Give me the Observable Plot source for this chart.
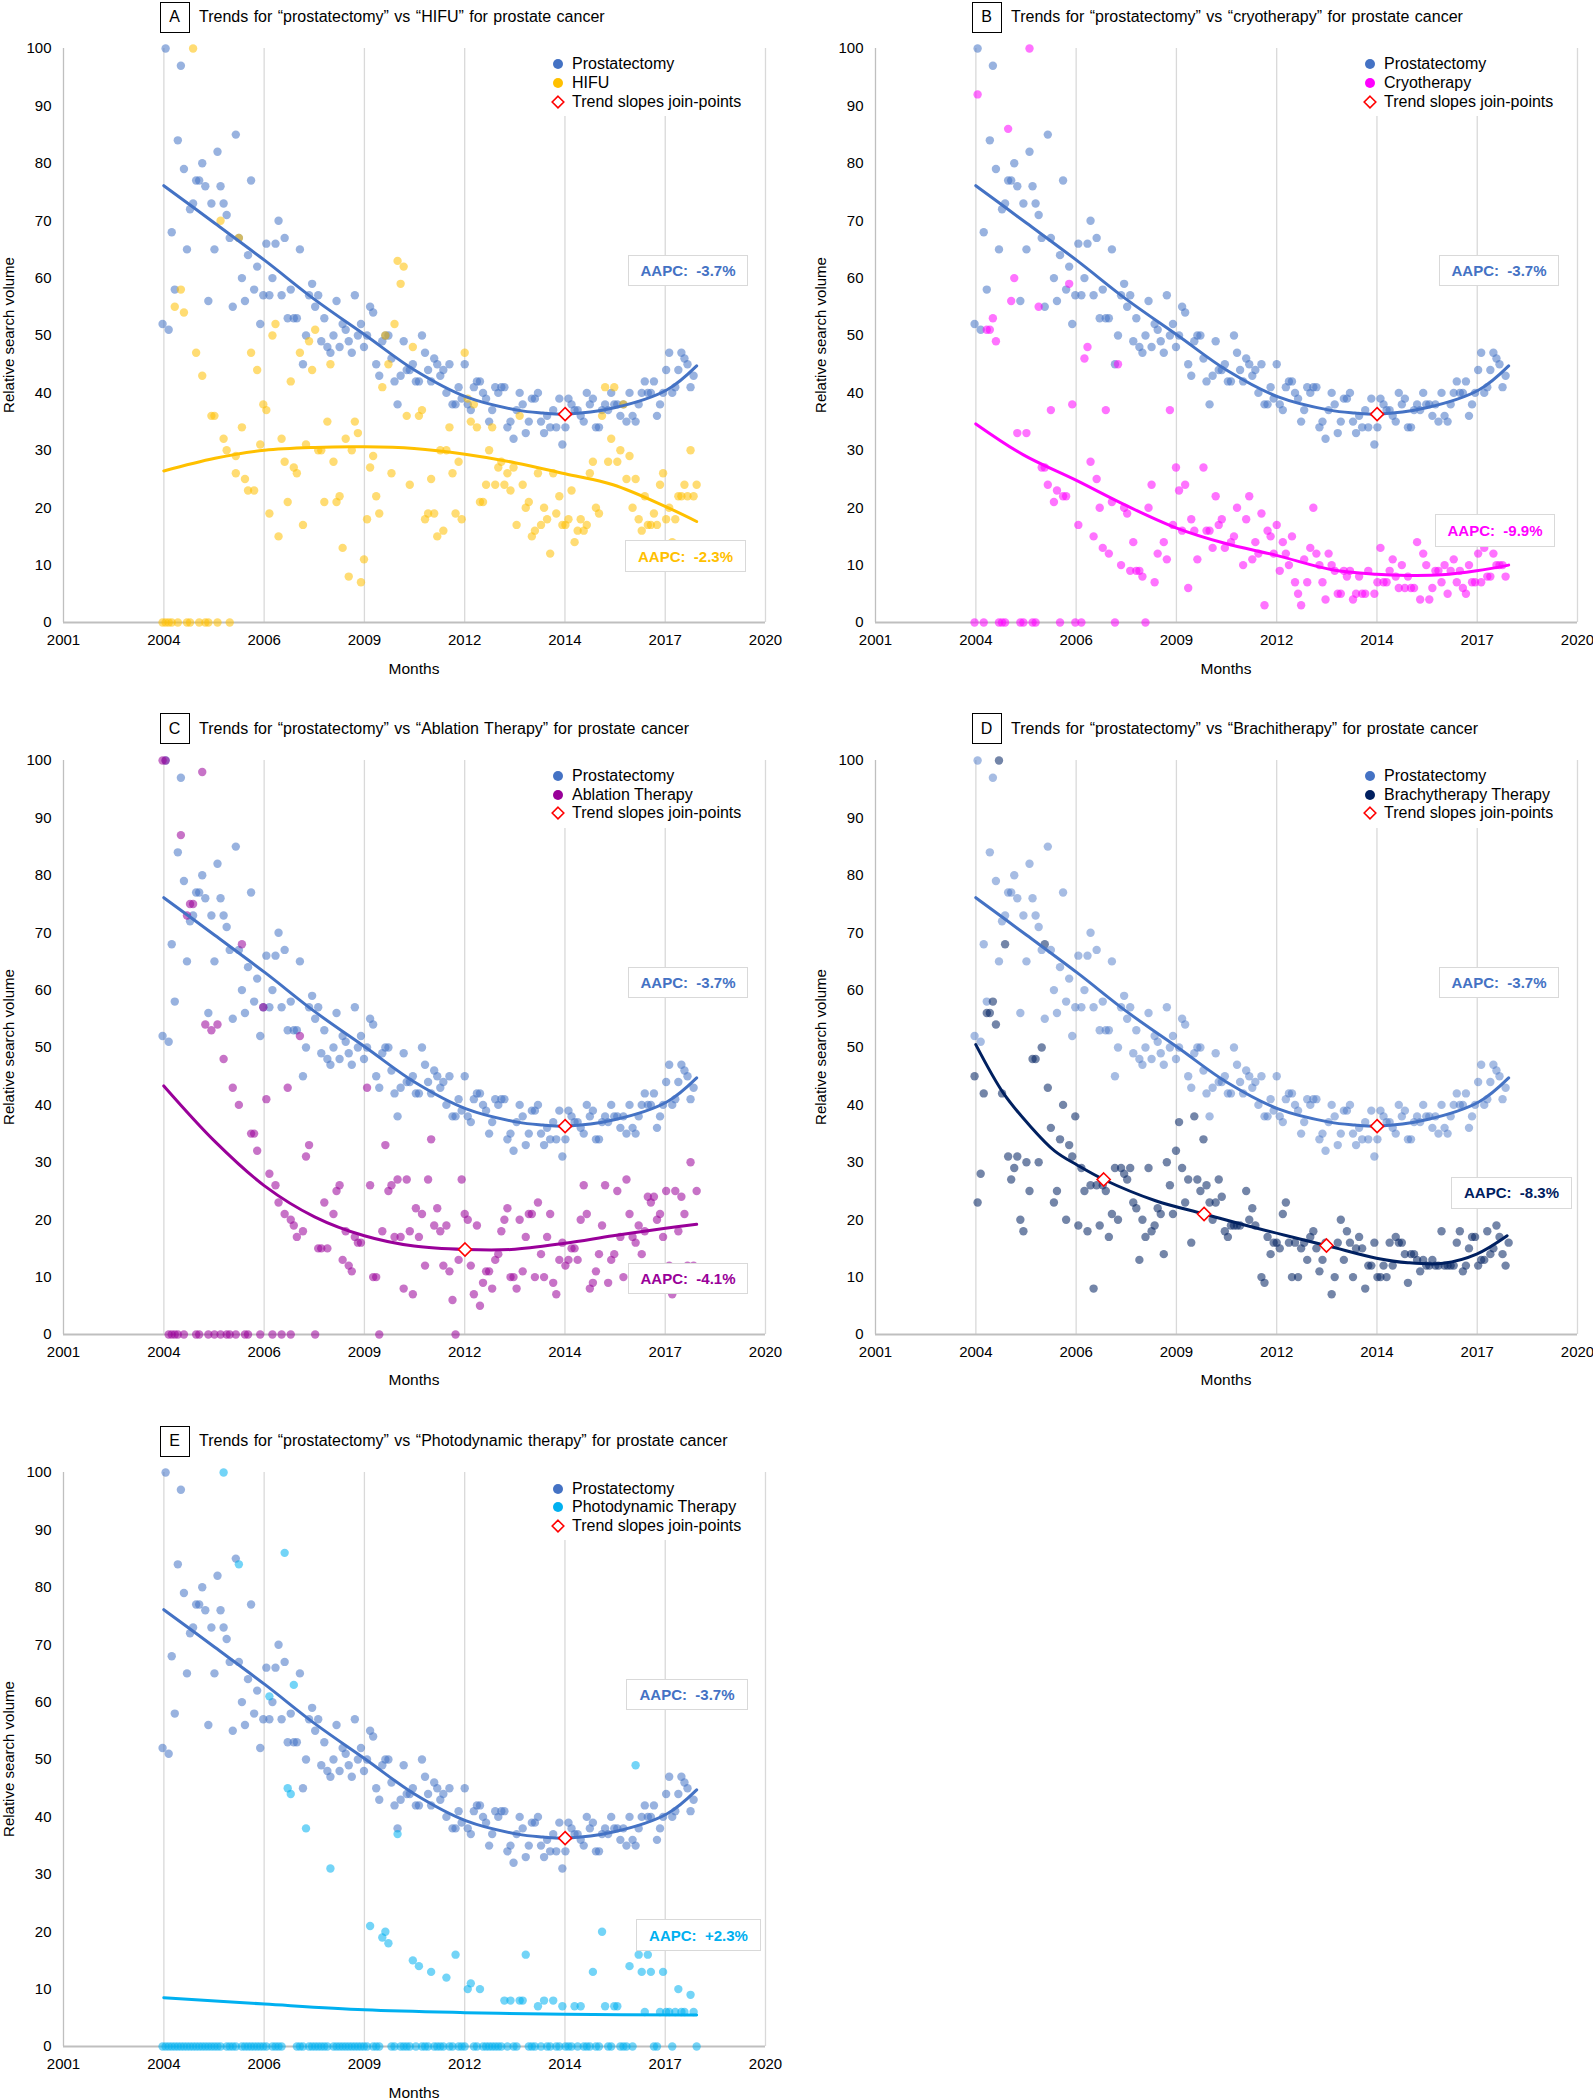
<!DOCTYPE html>
<html><head><meta charset="utf-8">
<script src="https://cdn.jsdelivr.net/npm/d3@7"></script>
<script src="https://cdn.jsdelivr.net/npm/@observablehq/plot@0.6"></script>
<style>
body{margin:0;background:#fff;font-family:Arial,"Liberation Sans",sans-serif;color:#000;}
#page{position:relative;width:1593px;height:2100px;overflow:hidden;}
.panel{position:absolute;width:800px;height:712px;}
.title{position:absolute;left:159.5px;top:1.5px;height:31px;display:flex;align-items:center;font-size:16px;word-spacing:1px;white-space:nowrap;}
.letter{box-sizing:border-box;width:30px;height:31px;border:1.5px solid #000;display:flex;align-items:center;justify-content:center;font-size:16px;margin-right:9.5px;}
.legend{position:absolute;width:210px;height:68px;background:#fff;padding-top:7px;box-sizing:border-box;font-size:16px;}
.row{height:18.7px;display:flex;align-items:center;white-space:nowrap;}
.sym{width:20px;display:flex;justify-content:center;align-items:center;margin-right:4px;}
.circ{width:10px;height:10px;border-radius:50%;}
.aapc{position:absolute;box-sizing:border-box;background:#fff;border:1.5px solid #d9d9d9;font-weight:bold;font-size:15px;display:flex;align-items:center;justify-content:center;white-space:pre;}
.xlab{position:absolute;font-size:15.5px;transform:translate(-50%,-50%);white-space:nowrap;}
.ylab{position:absolute;font-size:15px;transform:translate(-50%,-50%) rotate(-90deg);white-space:nowrap;}
</style></head>
<body><div id="page"></div>
<script>
// ---------- DATA ----------
// tick positions of the original (Excel serial 37000..44000, every 1000 days)
const tickDates = ["2001-04-18","2004-01-14","2006-10-10","2009-07-06","2012-04-01","2014-12-27","2017-09-22","2020-06-18"];
const yTicks = [0,10,20,30,40,50,60,70,80,90,100];

// Prostatectomy, monthly from Jan 2004 (month index 0)
const prostatectomy = [52,100,51,68,58,84,97,79,65,72, 73,77,77,80,76,56,73,65,82,76,
 73,71,67,55,85,67,60,56,64,77, 58,62,52,57,66,57,60,66,70,57, 67,53,58,53,53,65,45,50,57,59,
 55,57,49,53,48,47,50,56,48,52, 51,49,47,57,50,52,48,50,55,54, 45,43,49,50,50,46,42,38,43,49,
 44,44,45,42,42,50,47,44,42,46, 45,43,44,40,45,38,38,41,39,45, 38,37,41,42,42,40,39,35,37,41,
 40,41,41,34,35,32,37,40,38,33, 35,39,39,40,35,33,36,34,37,34, 39,31,34,39,38,37,37,36,35,40,
 38,39,34,34,37,38,37,40,38,38, 36,38,35,40,36,35,38,40,42,40, 40,42,36,38,40,44,47,40,41,44,
 47,46,45,41,43];
const prostatectomyTrend = [[0.4,76.1],[17,69.6],[33.7,63],[50,56.2],[66.6,50],[82.8,43.9],[99.5,39.3],[116.3,37],[124.6,36.5],[131.9,36.3],[148,37.4],[165.2,40.5],[175,44.7]];
const prostatectomyJoins = [[131.9,36.3]];

// HIFU  [month index, value]
const hifuZeroMonths = [0,1,2,3,5,8,9,12,14,15,18,22];
const hifu = [[4,55],[6,58],[7,54],[10,100],[11,47],[13,43],[16,36],[17,36],[19,70],[20,32],[21,30],[24,29],[24,26],[25,67],[26,34],[27,25],[28,23],[29,47],[30,23],[31,44],[32,31],[33,38],[34,37],[35,19],[36,50],[37,52],[38,15],[39,32],[40,28],[41,21],[42,42],[43,27],[44,26],[45,47],[46,17],[47,31],[48,49],[49,44],[50,51],[51,30],[52,30],[53,21],[54,35],[55,45],[56,28],[57,21],[58,22],[59,13],[60,32],[61,8],[62,30],[63,35],[64,33],[65,7],[66,11],[67,18],[68,27],[69,29],[70,22],[71,19],[72,41],[73,50],[74,45],[75,26],[76,52],[77,63],[78,59],[79,62],[80,36],[81,24],[82,48],[84,36],[85,37],[86,18],[87,19],[88,25],[89,19],[90,15],[91,30],[92,16],[93,30],[94,34],[95,26],[96,19],[97,28],[98,18],[99,47],[100,39],[101,35],[102,38],[103,34],[104,21],[105,21],[106,24],[107,30],[108,34],[109,24],[110,27],[111,28],[112,24],[113,26],[114,23],[115,27],[116,17],[117,36],[118,24],[119,20],[120,21],[121,15],[122,16],[123,26],[124,17],[125,20],[126,18],[127,12],[128,26],[129,19],[130,22],[131,17],[132,17],[133,18],[134,23],[135,14],[136,16],[137,18],[138,16],[139,17],[140,26],[141,28],[142,20],[143,19],[144,36],[145,41],[146,28],[147,32],[148,41],[149,28],[150,30],[151,38],[152,25],[153,29],[154,20],[155,25],[156,18],[157,16],[158,22],[159,17],[160,17],[161,19],[162,17],[163,24],[164,26],[165,18],[166,20],[167,14],[168,18],[169,22],[170,22],[171,24],[172,22],[173,30],[174,22],[175,24]];
const hifuTrend = [[0.4,26.4],[17.2,28.6],[33.4,30],[49.8,30.5],[66.1,30.6],[82.4,30.3],[99.1,29.3],[115.8,27.8],[131.9,25.9],[147.6,24],[164.8,20.2],[175,17.6]];

// Cryotherapy
const cryoZeroMonths = [0,3,8,9,10,15,16,19,20,28,33,35,46,56];
const cryo = [[1,92],[4,51],[5,51],[6,53],[7,49],[11,86],[12,56],[13,60],[14,33],[17,33],[18,100],[21,55],[22,27],[23,27],[24,24],[25,37],[26,21],[27,23],[29,22],[30,22],[31,59],[32,38],[34,17],[36,46],[37,48],[38,28],[39,15],[40,25],[41,20],[42,13],[43,37],[44,12],[45,21],[47,45],[48,10],[49,20],[50,19],[51,9],[52,14],[53,9],[54,9],[55,8],[57,20],[58,24],[59,7],[60,12],[62,14],[63,11],[64,37],[65,17],[66,27],[67,23],[68,16],[69,24],[70,6],[71,18],[72,16],[73,11],[75,27],[76,16],[77,16],[78,13],[79,22],[80,17],[81,18],[82,13],[84,14],[85,15],[86,20],[88,10],[89,18],[90,22],[91,11],[92,14],[93,12],[94,19],[95,3],[96,16],[97,15],[98,12],[99,17],[100,9],[101,14],[102,12],[103,10],[104,15],[105,7],[106,5],[107,3],[108,11],[109,7],[110,13],[111,20],[112,12],[113,10],[114,7],[115,4],[116,12],[117,10],[118,9],[119,5],[120,5],[121,9],[122,8],[123,9],[124,4],[125,5],[126,8],[127,5],[128,5],[129,9],[131,5],[132,7],[133,13],[134,7],[135,7],[136,9],[137,11],[138,8],[139,6],[140,10],[141,6],[142,8],[143,6],[144,6],[145,14],[146,4],[147,12],[148,10],[149,4],[150,6],[151,9],[152,9],[153,7],[154,10],[155,5],[156,9],[157,11],[158,7],[159,9],[160,6],[161,5],[162,10],[163,7],[164,7],[165,12],[166,7],[167,13],[168,8],[169,8],[170,12],[171,10],[172,10],[173,10],[174,8]];
const cryoTrend = [[0.4,34.6],[16,29.2],[33.2,24.8],[50,20.3],[66,16.5],[82,13.8],[98.9,11.7],[117.1,9.2],[131.7,8.4],[141.9,8.2],[153,8.3],[164.5,9],[175,10]];

// Ablation therapy
const ablationZeroMonths = [2,3,4,5,7,11,12,15,17,19,21,22,24,27,28,32,36,39,42,50,71,96];
const ablation = [[0,100],[1,100],[6,87],[13,98],[9,75],[10,75],[8,73],[14,54],[16,53],[18,54],[20,48],[23,43],[25,40],[26,68],[29,35],[30,35],[31,32],[33,57],[34,41],[35,28],[37,26],[38,23],[40,21],[41,43],[42,20],[43,19],[44,17],[45,52],[46,18],[47,31],[48,33],[51,15],[52,15],[54,15],[53,23],[56,21],[57,25],[58,26],[59,13],[60,18],[61,12],[62,11],[63,17],[64,16],[65,16],[67,43],[68,26],[69,10],[70,10],[72,18],[73,33],[74,25],[75,26],[76,17],[77,27],[78,17],[79,8],[80,27],[81,18],[82,7],[83,22],[84,17],[85,21],[86,12],[87,27],[88,34],[89,19],[90,22],[91,18],[92,12],[93,19],[94,11],[95,6],[97,13],[98,27],[99,21],[100,20],[101,12],[102,7],[103,19],[104,5],[105,9],[106,11],[107,11],[108,8],[109,13],[110,14],[111,18],[112,20],[113,22],[114,10],[115,10],[116,8],[117,20],[118,11],[119,17],[120,21],[121,21],[122,10],[123,23],[124,14],[125,10],[126,17],[127,21],[128,9],[129,7],[130,13],[131,16],[132,12],[133,13],[134,15],[135,15],[136,13],[137,20],[138,26],[139,21],[140,8],[141,9],[142,11],[143,14],[144,19],[145,26],[146,9],[147,13],[148,14],[149,25],[150,17],[151,10],[152,27],[153,21],[154,17],[155,16],[156,19],[157,14],[158,18],[159,24],[160,23],[161,24],[162,20],[163,21],[164,17],[165,25],[166,12],[167,7],[168,25],[169,18],[170,24],[171,21],[172,12],[173,30],[174,12],[175,25]];
const ablationTrend = [[0.4,43.3],[17.2,33.6],[33.4,25.9],[49.8,20.5],[66.1,17.2],[82.4,15.4],[99.1,14.8],[114.2,14.8],[131.9,15.9],[147.6,17.2],[164.8,18.5],[175,19.2]];
const ablationJoins = [[99.1,14.8]];

// Brachytherapy
const brachy = [[0,45],[1,23],[2,28],[3,42],[4,56],[5,56],[6,58],[7,54],[8,100],[9,42],[10,68],[11,31],[12,27],[13,29],[14,31],[15,20],[16,18],[17,30],[18,25],[19,48],[20,48],[21,30],[22,50],[23,68],[24,43],[25,36],[26,23],[27,25],[28,34],[29,40],[30,20],[31,33],[32,31],[33,38],[34,19],[35,29],[36,25],[37,18],[38,26],[39,8],[40,26],[41,19],[42,26],[43,25],[44,17],[45,21],[46,29],[47,20],[48,29],[49,28],[50,27],[51,29],[52,23],[53,22],[54,13],[55,20],[56,17],[57,29],[58,18],[59,19],[60,22],[61,21],[62,14],[63,30],[64,26],[65,21],[66,32],[67,37],[68,29],[69,23],[70,27],[71,16],[72,38],[73,27],[74,25],[75,34],[76,26],[77,23],[78,20],[79,23],[80,27],[81,24],[82,18],[83,17],[84,19],[85,19],[86,19],[87,19],[89,25],[90,20],[91,22],[92,19],[94,10],[95,9],[96,17],[97,14],[98,16],[99,16],[100,15],[101,21],[102,23],[103,16],[104,10],[105,16],[106,10],[107,15],[108,16],[109,13],[110,17],[111,18],[112,15],[113,11],[114,13],[115,16],[117,7],[118,10],[119,16],[120,20],[121,13],[122,18],[123,16],[124,10],[125,15],[126,17],[127,15],[128,8],[129,12],[130,12],[131,16],[132,10],[133,10],[134,12],[135,10],[136,16],[137,12],[138,17],[139,16],[140,16],[141,14],[142,9],[143,14],[144,14],[145,13],[146,11],[147,13],[148,12],[149,12],[150,13],[151,12],[152,12],[153,18],[154,12],[155,12],[156,12],[157,12],[158,16],[159,18],[160,11],[161,12],[162,15],[163,17],[164,17],[165,12],[166,13],[167,13],[168,18],[169,14],[170,15],[171,19],[172,17],[173,14],[174,12],[175,16]];
const brachyTrend = [[0.4,50.5],[9.5,42],[17.9,36.5],[26.2,32],[33.7,29.5],[42.3,27],[59.3,23.3],[75.2,21],[92.6,18.5],[115.3,15.5],[131.7,13.3],[142,12.5],[153.6,12.4],[164.5,14],[174.5,17.2]];
const brachyJoins = [[42.3,27],[75.2,21],[115.3,15.5]];

// Photodynamic therapy
const pdtZeroRanges = [[0,19],[21,24],[26,34],[36,39],[44,46],[48,54],[56,67],[69,71],[75,76],[78,81],[83,83],[85,87],[89,92],[94,95],[97,99],[102,103],[105,111],[113,113],[115,116],[120,122],[124,124],[126,127],[129,130],[132,134],[136,136],[138,140],[142,143],[146,147],[150,152],[154,154],[161,162],[167,167],[175,175]];
const pdt = [[20,100],[25,84],[35,61],[40,86],[41,45],[42,44],[43,63],[47,38],[55,31],[68,21],[72,19],[73,20],[74,18],[77,37],[82,15],[84,14],[88,13],[93,12],[96,16],[100,10],[101,11],[104,10],[112,8],[114,8],[117,8],[118,8],[119,16],[123,7],[125,8],[128,8],[131,7],[135,7],[137,7],[141,13],[144,20],[145,7],[148,7],[149,7],[153,14],[155,49],[156,16],[157,13],[158,6],[159,16],[160,13],[163,6],[164,13],[165,6],[166,6],[168,6],[169,10],[170,6],[171,6],[173,9],[174,6]];
const pdtTrend = [[0.4,8.5],[33.4,7.4],[66.1,6.4],[99.1,5.9],[131.9,5.6],[175,5.5]];

// ---------- PANEL DEFINITIONS ----------
const panels = [
 {letter:"A", title:"Trends for “prostatectomy” vs “HIFU” for prostate cancer", name:"HIFU", color:"#FFC000",
  points: hifu.concat(hifuZeroMonths.map(m=>[m,0])), trend:hifuTrend, joins:prostatectomyJoins, aapc:"-2.3%"},
 {letter:"B", title:"Trends for “prostatectomy” vs “cryotherapy” for prostate cancer", name:"Cryotherapy", color:"#FF00FF",
  points: cryo.concat(cryoZeroMonths.map(m=>[m,0])), trend:cryoTrend, joins:prostatectomyJoins, aapc:"-9.9%"},
 {letter:"C", title:"Trends for “prostatectomy” vs “Ablation Therapy” for prostate cancer", name:"Ablation Therapy", color:"#990099",
  points: ablation.concat(ablationZeroMonths.map(m=>[m,0])), trend:ablationTrend, joins:prostatectomyJoins.concat(ablationJoins), aapc:"-4.1%"},
 {letter:"D", title:"Trends for “prostatectomy” vs “Brachitherapy” for prostate cancer", name:"Brachytherapy Therapy", color:"#002060",
  points: brachy, trend:brachyTrend, joins:prostatectomyJoins.concat(brachyJoins), aapc:"-8.3%"},
 {letter:"E", title:"Trends for “prostatectomy” vs “Photodynamic therapy” for prostate cancer", name:"Photodynamic Therapy", color:"#00B0F0",
  points: pdt.concat(pdtZeroRanges.flatMap(([a,b])=>d3.range(a,b+1).map(m=>[m,0]))), trend:pdtTrend, joins:prostatectomyJoins, aapc:"+2.3%"}
];
const prostAapc = "-3.7%";

// ---------- LAYOUT (pixels) ----------
const layout = {
 A:{left:0,   top:0,      box1:[565,207,120,31], box2:[562,492,121,32]},
 B:{left:812, top:0,      box1:[564,207,120,31], box2:[560,466,120,33]},
 C:{left:0,   top:711.5,  box1:[565,207,120,31], box2:[565,503,120,31]},
 D:{left:812, top:711.5,  box1:[564,207,120,31], box2:[576,417,121,32]},
 E:{left:0,   top:1424.3, box1:[563,207,122,31], box2:[573,447,125,32]}
};
const W = 790, H = 662, ML = 63, MR = 25, MT = 18, MB = 70, SVG_TOP = 30;
const BLUE = "#4472C4";

const t0 = Date.UTC(2004,0,1);
const toDate = m => new Date(t0 + m * 30.436875 * 86400000);
const ticks = tickDates.map(s => new Date(s + "T00:00:00Z"));

const page = document.getElementById("page");

function legendHTML(p){
  const diamond = `<svg width="14" height="14" viewBox="0 0 14 14"><path d="M7 1.2 L12.8 7 L7 12.8 L1.2 7 Z" fill="#fff" stroke="#FF0000" stroke-width="1.6"/></svg>`;
  return `<div class="row"><span class="sym"><span class="circ" style="background:${BLUE}"></span></span>Prostatectomy</div>
  <div class="row"><span class="sym"><span class="circ" style="background:${p.color}"></span></span>${p.name}</div>
  <div class="row"><span class="sym">${diamond}</span>Trend slopes join-points</div>`;
}

for (const p of panels) {
  const L = layout[p.letter];
  const div = document.createElement("div");
  div.className = "panel";
  div.style.left = L.left + "px";
  div.style.top = L.top + "px";
  page.appendChild(div);

  const title = document.createElement("div");
  title.className = "title";
  title.innerHTML = `<span class="letter">${p.letter}</span><span>${p.title}</span>`;
  div.appendChild(title);

  const prostData = prostatectomy.map((v,i)=>({date:toDate(i), value:v}));
  const compData = p.points.map(([m,v])=>({date:toDate(m), value:v}));
  const pt = prostatectomyTrend.map(([m,v])=>({date:toDate(m), value:v}));
  const ct = p.trend.map(([m,v])=>({date:toDate(m), value:v}));
  const jp = p.joins.map(([m,v])=>({date:toDate(m), value:v}));

  const svg = Plot.plot({
    width:W, height:H, marginLeft:ML, marginRight:MR, marginTop:MT, marginBottom:MB,
    style:{fontFamily:"Arial, 'Liberation Sans', sans-serif", fontSize:"15px", color:"#000", background:"transparent", overflow:"visible"},
    x:{type:"utc", domain:[ticks[0], ticks[ticks.length-1]]},
    y:{domain:[0,100]},
    marks:[
      Plot.ruleX(ticks.slice(1), {y1:0, y2:100, stroke:"#d9d9d9", strokeWidth:1.3}),
      Plot.ruleX(ticks.slice(0,1), {y1:0, y2:100, stroke:"#bfbfbf", strokeWidth:1.3}),
      Plot.ruleY([0], {stroke:"#bfbfbf", strokeWidth:2}),
      Plot.axisX({ticks:ticks, tickFormat:d3.utcFormat("%Y"), tickSize:0, tickPadding:12, label:null, fontSize:15}),
      Plot.axisY({ticks:yTicks, tickSize:0, tickPadding:12, label:null, fontSize:15}),
      Plot.dot(prostData, {x:"date", y:"value", r:4.2, fill:BLUE, fillOpacity:p.letter==="D"?0.48:0.55, stroke:"none"}),
      Plot.dot(compData, {x:"date", y:"value", r:4.2, fill:p.color, fillOpacity:0.55, stroke:"none"}),
      Plot.line(pt, {x:"date", y:"value", stroke:BLUE, strokeWidth:3, curve:"catmull-rom"}),
      Plot.line(ct, {x:"date", y:"value", stroke:p.color, strokeWidth:3, curve:"catmull-rom"}),
      Plot.dot(jp, {x:"date", y:"value", symbol:"diamond2", r:5.9, fill:"#fff", stroke:"#FF0000", strokeWidth:1.6})
    ]
  });
  svg.style.position = "absolute";
  svg.style.left = "0px";
  svg.style.top = SVG_TOP + "px";
  div.appendChild(svg);

  const plotTop = SVG_TOP + MT;
  const lg = document.createElement("div");
  lg.className = "legend";
  lg.style.left = (ML + 485) + "px";
  lg.style.top = plotTop + "px";
  lg.innerHTML = legendHTML(p);
  div.appendChild(lg);

  const mkBox = (b, text, color) => {
    const e = document.createElement("div");
    e.className = "aapc";
    e.style.left = (ML + b[0]) + "px";
    e.style.top = (plotTop + b[1]) + "px";
    e.style.width = b[2] + "px";
    e.style.height = b[3] + "px";
    e.style.color = color;
    e.textContent = "AAPC:  " + text;
    div.appendChild(e);
  };
  mkBox(L.box1, prostAapc, BLUE);
  mkBox(L.box2, p.aapc, p.color);

  const xl = document.createElement("div");
  xl.className = "xlab";
  xl.style.left = (ML + 351) + "px";
  xl.style.top = "668.6px";
  xl.textContent = "Months";
  div.appendChild(xl);

  const yl = document.createElement("div");
  yl.className = "ylab";
  yl.style.left = "7.5px";
  yl.style.top = (plotTop + 287) + "px";
  yl.textContent = "Relative search volume";
  div.appendChild(yl);
}
</script>
</body></html>
